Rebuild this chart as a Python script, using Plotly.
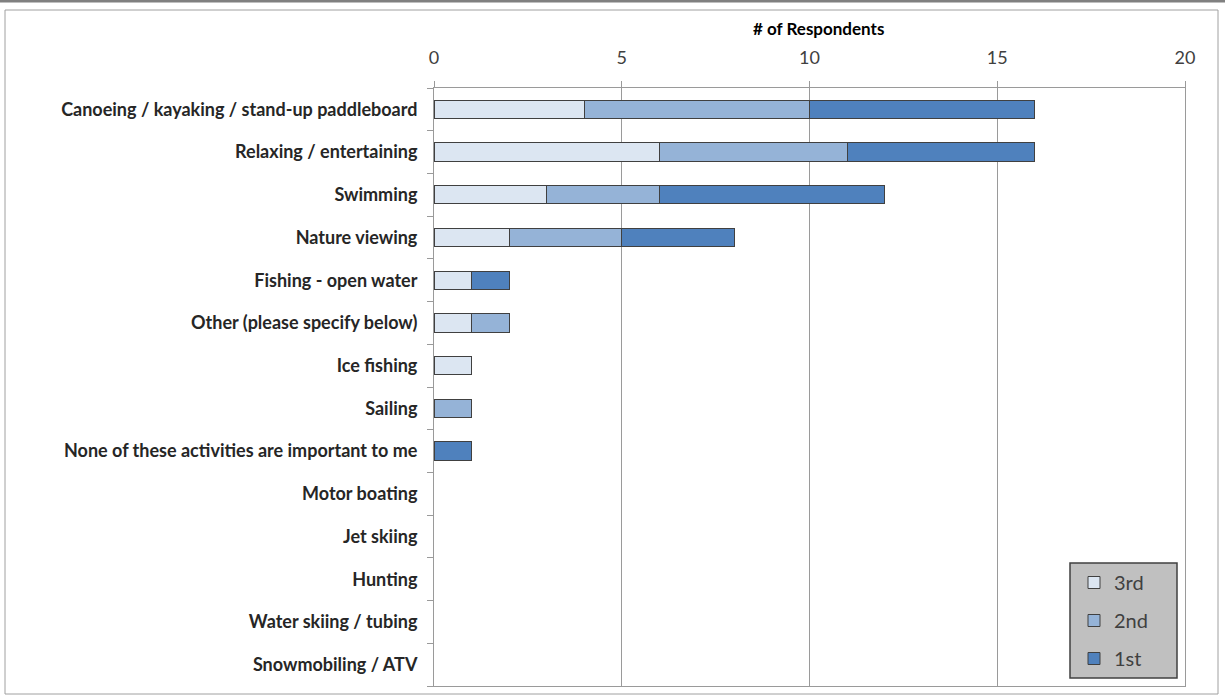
import plotly.graph_objects as go

categories = [
    "Canoeing / kayaking / stand-up paddleboard",
    "Relaxing / entertaining",
    "Swimming",
    "Nature viewing",
    "Fishing - open water",
    "Other (please specify below)",
    "Ice fishing",
    "Sailing",
    "None of these activities are important to me",
    "Motor boating",
    "Jet skiing",
    "Hunting",
    "Water skiing / tubing",
    "Snowmobiling / ATV",
]
third = [4, 6, 3, 2, 1, 1, 1, 0, 0, 0, 0, 0, 0, 0]
second = [6, 5, 3, 3, 0, 1, 0, 1, 0, 0, 0, 0, 0, 0]
first = [6, 5, 6, 3, 1, 0, 0, 0, 1, 0, 0, 0, 0, 0]
series_names = ["3rd", "2nd", "1st"]
series_colors = ["#DCE6F2", "#95B3D7", "#4F81BD"]
x_ticks = [0, 5, 10, 15, 20]
x_title = "# of Respondents"

W, H = 1225, 696
L, R, T, B = 434, 40, 88, 10
pw, ph = W - L - R, H - T - B

fig = go.Figure()
for name, vals, col in zip(series_names, [third, second, first], series_colors):
    fig.add_trace(go.Bar(
        y=categories, x=[v if v else None for v in vals], name=name, orientation="h",
        legendgroup=name,
        marker=dict(color=col, line=dict(color="#404040", width=1)),
    ))

def px_x(v):
    return (v - L) / pw

def px_y(v):
    return 1 - (v - T) / ph

fig.update_layout(
    width=W, height=H,
    margin=dict(l=L, r=R, t=T, b=B, autoexpand=False),
    paper_bgcolor="white", plot_bgcolor="white",
    barmode="stack", bargap=0.57,
    font=dict(family="Lato, Open Sans, sans-serif", color="#404040"),
    xaxis=dict(
        side="top", range=[0, 20], tickvals=x_ticks,
        showgrid=True, gridcolor="#9a9a9a", gridwidth=1,
        showline=True, linecolor="#9a9a9a", mirror=True,
        ticks="outside", ticklen=6, tickcolor="#9a9a9a",
        tickfont=dict(size=18, color="#404040"),
        ticklabelstandoff=10,
        zeroline=False, automargin=False,
    ),
    yaxis=dict(
        categoryorder="array", categoryarray=categories, autorange="reversed",
        tickvals=categories, ticktext=["<b>%s</b>" % c for c in categories],
        showline=True, linecolor="#9a9a9a", mirror=True,
        ticks="outside", ticklen=6, tickcolor="#9a9a9a", tickson="boundaries",
        tickfont=dict(size=18, color="#262626"),
        ticklabelstandoff=12, automargin=False,
    ),
    legend=dict(
        x=px_x(1074), y=px_y(563), xanchor="left", yanchor="top",
        bgcolor="rgba(0,0,0,0)", borderwidth=0,
        font=dict(size=20, color="#404040"),
        traceorder="grouped", tracegroupgap=9, itemwidth=30,
    ),
    showlegend=True,
)

# legend box
fig.add_shape(type="rect", xref="paper", yref="paper",
              x0=px_x(1070), x1=px_x(1177), y0=px_y(678), y1=px_y(563),
              fillcolor="#C0C0C0", line=dict(color="#404040", width=1.5))

fig.add_annotation(text="<b>%s</b>" % x_title, xref="paper", yref="paper",
                   x=px_x(818), y=px_y(29), xanchor="center", yanchor="middle",
                   showarrow=False, font=dict(size=17, color="black"))

# chart frame
fig.add_shape(type="rect", xref="paper", yref="paper",
              x0=px_x(5), x1=px_x(1218), y0=px_y(694), y1=px_y(10),
              line=dict(color="#a0a0a0", width=1), layer="below")
fig.add_shape(type="line", xref="paper", yref="paper",
              x0=px_x(0), x1=px_x(1225), y0=px_y(1), y1=px_y(1),
              line=dict(color="#808080", width=3))

fig.write_html("out.html", config={"displayModeBar": False},
               post_script="document.body.style.margin='0';document.body.style.overflow='hidden';")
